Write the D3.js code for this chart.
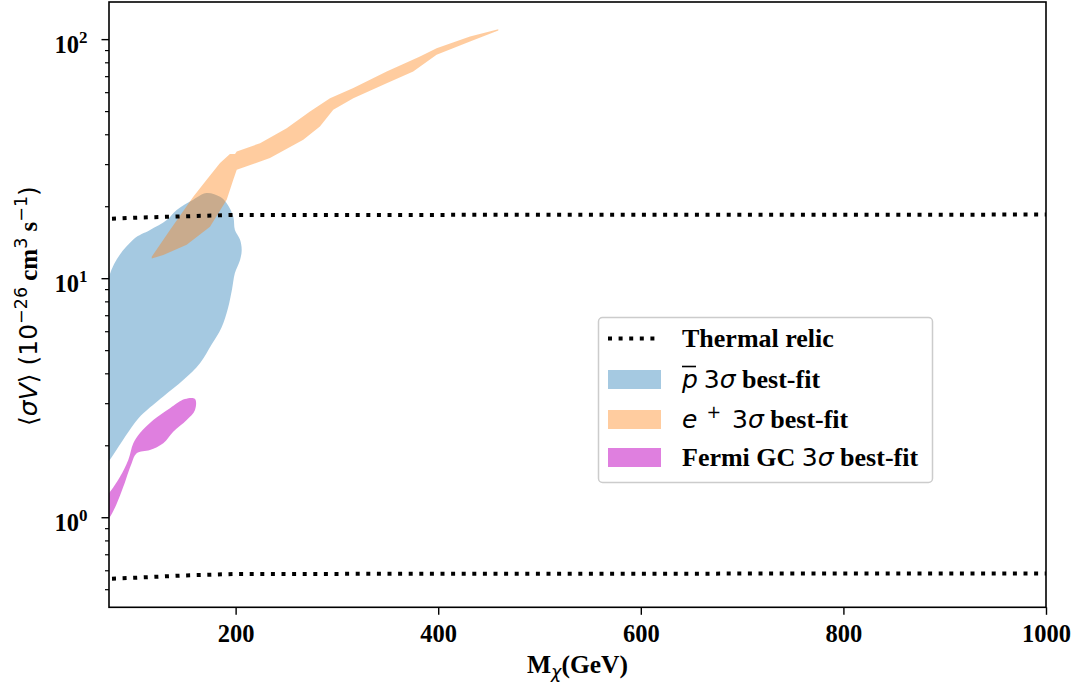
<!DOCTYPE html>
<html>
<head>
<meta charset="utf-8">
<script src="https://cdn.jsdelivr.net/npm/d3@7"></script>
<style>
  html, body { margin: 0; padding: 0; background: #fff; }
  svg { display: block; }
</style>
</head>
<body>
<svg id="chart" width="1076" height="685"></svg>
<script>
// ---------------- data ----------------
const xTickValues = [200, 400, 600, 800, 1000];
const yMajorTicks = [1, 10, 100];
const yMajorExponents = ["0", "1", "2"];
const yMinorTicks = [0.5, 0.6, 0.7, 0.8, 0.9, 2, 3, 4, 5, 6, 7, 8, 9, 20, 30, 40, 50, 60, 70, 80, 90];

// antiproton 3-sigma region (closed outline)
const pbarMass = [75, 99, 115.5, 132, 141.8, 158.2, 171.4, 184.6, 191.2, 197.7, 199.3, 204.3, 206, 204.3, 199.3,
  196.5, 192.5, 186, 176, 164.8, 148.3, 128.6, 108.9, 100.7, 88, 75.9, 70];
const pbarSigmaV = [10.15, 14.5, 15.9, 17.5, 19.3, 21.3, 22.7, 21.9, 20.6, 18.1, 15.9, 14.5, 13.1, 11.9, 10.5,
  9.0, 7.5, 6.2, 5.25, 4.41, 3.75, 3.2, 2.72, 2.49, 2.08, 1.74, 1.6];

// positron 3-sigma band (upper edge then lower edge reversed)
const positronMass = [117.2, 135.2, 158.2, 171.4, 184.6, 194.4, 199.4, 201.1, 224.1, 250.4, 273.4, 293.2, 316.2,
  349.1, 382, 398.4, 431.4, 459.3,
  459.3, 431.4, 398.4, 375.3, 349.1, 316.2, 296.4, 283.2, 266.8, 233.9, 201.1, 197.7, 191.2, 174.7, 151.7, 128.6, 117.2];
const positronSigmaV = [12.3, 15.9, 21.9, 25.8, 30.3, 33.1, 33.1, 33.9, 36.7, 42.4, 49.8, 56.6, 62.4,
  73.2, 84.5, 91.6, 102.5, 110.1,
  108.7, 97.7, 86.0, 73.2, 65.4, 56.6, 50.6, 43.1, 37.9, 31.8, 28.4, 25.8, 21.3, 16.4, 13.8, 12.5, 12.1];

// Fermi GC 3-sigma band
const fermiMass = [70, 75, 86, 94.1, 99, 105.6, 118.7, 135.2, 150, 159.9,
  159.9, 151.7, 138.4, 128.6, 115.4, 102.3, 97.3, 89.1, 82.6, 75, 70];
const fermiSigmaV = [1.2, 1.26, 1.48, 1.74, 2.04, 2.25, 2.55, 2.86, 3.12, 3.12,
  2.81, 2.55, 2.28, 2.04, 1.91, 1.85, 1.68, 1.34, 1.14, 0.99, 0.95];

// thermal relic curves
const thermalMass = [75, 100, 150, 200, 400, 1000];
const thermalUpper = [17.7, 17.9, 18.15, 18.4, 18.4, 18.45];
const thermalLower = [0.553, 0.558, 0.571, 0.579, 0.58, 0.582];

const legendLabels = ["Thermal relic", "p 3σ best-fit", "e+ 3σ best-fit", "Fermi GC 3σ best-fit"];

// ---------------- styles ----------------
const SERIF = "'Liberation Serif', 'Times New Roman', serif";
const SANS = "'DejaVu Sans', sans-serif";
const cBlue = "#1f77b4", cOrange = "#ff7f0e", cMag = "#bf00bf";

const svg = d3.select("#chart");
const plot = { left: 109, right: 1046, top: 2, bottom: 607.3 };

const x = d3.scaleLinear().domain([75, 1000]).range([plot.left, plot.right]);
const y = d3.scaleLog().domain([0.42, 143]).range([plot.bottom, plot.top]);

svg.append("defs").append("clipPath").attr("id", "clip")
  .append("rect").attr("x", plot.left).attr("y", plot.top)
  .attr("width", plot.right - plot.left).attr("height", plot.bottom - plot.top);

const g = svg.append("g").attr("clip-path", "url(#clip)");

const poly = (xs, ys, curve) => d3.line().curve(curve).x(d => x(d[0])).y(d => y(d[1]))(d3.zip(xs, ys));

g.append("path").attr("d", poly(pbarMass, pbarSigmaV, d3.curveCatmullRomClosed.alpha(0.5)))
  .attr("fill", cBlue).attr("fill-opacity", 0.4);
g.append("path").attr("d", poly(positronMass, positronSigmaV, d3.curveLinearClosed))
  .attr("fill", cOrange).attr("fill-opacity", 0.4);
g.append("path").attr("d", poly(fermiMass, fermiSigmaV, d3.curveCatmullRomClosed.alpha(0.5)))
  .attr("fill", cMag).attr("fill-opacity", 0.5);

const line = d3.line().x(d => x(d[0])).y(d => y(d[1]));
[thermalUpper, thermalLower].forEach(vals => {
  g.append("path").attr("d", line(d3.zip(thermalMass, vals)))
    .attr("fill", "none").attr("stroke", "#000").attr("stroke-width", 4)
    .attr("stroke-dasharray", "4 6.6").attr("stroke-dashoffset", -3);
});

// ---------------- axes ----------------
const xAxis = svg.append("g").attr("transform", `translate(0,${plot.bottom})`)
  .call(d3.axisBottom(x).tickValues(xTickValues).tickSize(7.5).tickPadding(10).tickFormat(d3.format("d")));
xAxis.select(".domain").remove();
xAxis.selectAll("line").attr("stroke-width", 1.4);
xAxis.selectAll("text").attr("font-family", SERIF).attr("font-weight", "bold").attr("font-size", 24.5).attr("fill", "#000");

const yAxis = svg.append("g").attr("transform", `translate(${plot.left},0)`)
  .call(d3.axisLeft(y).tickValues(yMajorTicks).tickSize(7.5).tickPadding(14).tickFormat(""));
yAxis.select(".domain").remove();
yAxis.selectAll("line").attr("stroke-width", 1.4);
yAxis.selectAll("text").each(function (d, i) {
  const t = d3.select(this).text(null).attr("dy", null).attr("y", 13)
    .attr("font-family", SERIF).attr("font-weight", "bold").attr("font-size", 24.5).attr("fill", "#000");
  t.append("tspan").text("10");
  t.append("tspan").attr("font-size", 17).attr("dy", -10).text(yMajorExponents[i]);
});
const yMinor = svg.append("g").attr("transform", `translate(${plot.left},0)`)
  .call(d3.axisLeft(y).tickValues(yMinorTicks).tickSize(4).tickFormat(""));
yMinor.select(".domain").remove();
yMinor.selectAll("line").attr("stroke-width", 1.2);

svg.append("rect").attr("x", plot.left).attr("y", plot.top)
  .attr("width", plot.right - plot.left).attr("height", plot.bottom - plot.top)
  .attr("fill", "none").attr("stroke", "#000").attr("stroke-width", 1.6);

// ---------------- axis labels ----------------
const xl = svg.append("text").attr("x", (plot.left + plot.right) / 2).attr("y", 673)
  .attr("text-anchor", "middle").attr("font-size", 25.5).attr("fill", "#000");
xl.append("tspan").attr("font-family", SERIF).attr("font-weight", "bold").text("M");
xl.append("tspan").attr("font-family", SANS).attr("font-style", "italic").attr("font-size", 17.5).attr("dy", 5).text("χ");
xl.append("tspan").attr("font-family", SERIF).attr("font-weight", "bold").attr("dy", -5).text("(GeV)");

const yl = svg.append("text").attr("transform", "translate(37,306) rotate(-90)")
  .attr("text-anchor", "middle").attr("font-size", 25).attr("fill", "#000");
yl.append("tspan").attr("font-family", SANS).text("⟨");
yl.append("tspan").attr("font-family", SANS).attr("font-style", "italic").text("σV");
yl.append("tspan").attr("font-family", SANS).text("⟩ (10");
yl.append("tspan").attr("font-family", SANS).attr("font-size", 17.5).attr("dy", -10).text("−26");
yl.append("tspan").attr("font-family", SERIF).attr("font-weight", "bold").attr("dy", 10).text(" cm");
yl.append("tspan").attr("font-family", SANS).attr("font-size", 17.5).attr("dy", -10).text("3");
yl.append("tspan").attr("font-family", SERIF).attr("font-weight", "bold").attr("dy", 10).text(" s");
yl.append("tspan").attr("font-family", SANS).attr("font-size", 17.5).attr("dy", -10).text("−1");
yl.append("tspan").attr("font-family", SANS).attr("dy", 10).text(")");

// ---------------- legend ----------------
const lg = svg.append("g");
lg.append("rect").attr("x", 598.5).attr("y", 317.5).attr("width", 334).attr("height", 165)
  .attr("rx", 4).attr("fill", "#fff").attr("fill-opacity", 0.8)
  .attr("stroke", "#cccccc").attr("stroke-width", 1.5);

const rowY = [338.5, 379.5, 419.5, 457.5];
const txtX = 682;
lg.append("line").attr("x1", 608).attr("x2", 660).attr("y1", rowY[0]).attr("y2", rowY[0])
  .attr("stroke", "#000").attr("stroke-width", 4).attr("stroke-dasharray", "4 6.6");
[[cBlue, 0.4], [cOrange, 0.4], [cMag, 0.5]].forEach((c, i) => {
  lg.append("rect").attr("x", 608).attr("y", rowY[i + 1] - 9.5).attr("width", 53).attr("height", 19)
    .attr("fill", c[0]).attr("fill-opacity", c[1]);
});
const base = i => rowY[i] + 8.5;
// row 0
lg.append("text").attr("x", txtX).attr("y", base(0)).attr("font-family", SERIF).attr("font-weight", "bold")
  .attr("font-size", 26).text(legendLabels[0]);
// row 1
const t1 = lg.append("text").attr("x", txtX).attr("y", base(1)).attr("font-size", 25);
t1.append("tspan").attr("font-family", SANS).attr("font-style", "italic").text("p");
t1.append("tspan").attr("font-family", SANS).attr("dx", -2).text(" 3");
t1.append("tspan").attr("font-family", SANS).attr("font-style", "italic").text("σ");
t1.append("tspan").attr("font-family", SERIF).attr("font-weight", "bold").attr("font-size", 26).text(" best-fit");
lg.append("line").attr("x1", txtX).attr("x2", txtX + 14).attr("y1", base(1) - 21.5).attr("y2", base(1) - 21.5)
  .attr("stroke", "#000").attr("stroke-width", 1.6);
// row 2
const t2 = lg.append("text").attr("x", txtX).attr("y", base(2)).attr("font-size", 25);
t2.append("tspan").attr("font-family", SANS).attr("font-style", "italic").text("e");
t2.append("tspan").attr("font-family", SANS).attr("font-size", 17.5).attr("dx", 9).attr("dy", -10).text("+");
t2.append("tspan").attr("font-family", SANS).attr("dx", 3).attr("dy", 10).text(" 3");
t2.append("tspan").attr("font-family", SANS).attr("font-style", "italic").text("σ");
t2.append("tspan").attr("font-family", SERIF).attr("font-weight", "bold").attr("font-size", 26).text(" best-fit");
// row 3
const t3 = lg.append("text").attr("x", txtX).attr("y", base(3)).attr("font-size", 26);
t3.append("tspan").attr("font-family", SERIF).attr("font-weight", "bold").text("Fermi GC ");
t3.append("tspan").attr("font-family", SANS).attr("font-size", 25).text("3");
t3.append("tspan").attr("font-family", SANS).attr("font-size", 25).attr("font-style", "italic").text("σ");
t3.append("tspan").attr("font-family", SERIF).attr("font-weight", "bold").text(" best-fit");
</script>
</body>
</html>
